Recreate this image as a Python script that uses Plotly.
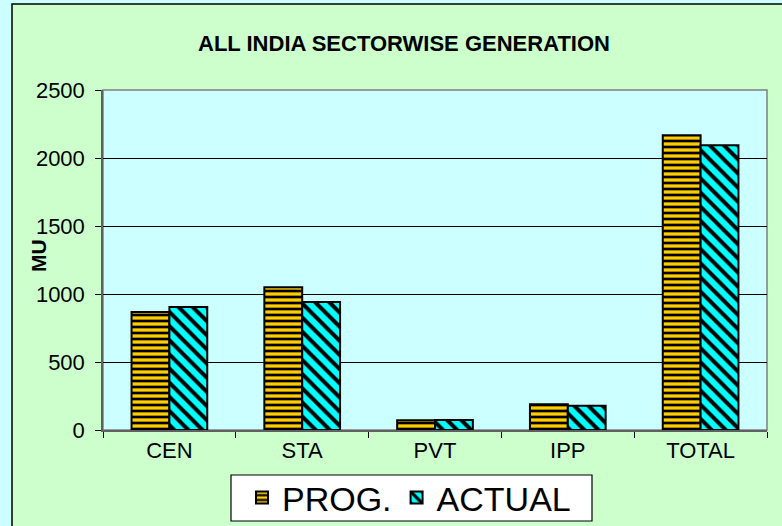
import plotly.graph_objects as go

categories = ["CEN", "STA", "PVT", "IPP", "TOTAL"]
prog = [868, 1049, 72, 189, 2167]
actual = [904, 941, 74, 179, 2093]
y_ticks = [0, 500, 1000, 1500, 2000, 2500]

W, H = 782, 526
L, R, T, B = 103, 15, 90, 96
pw, ph = W - L - R, H - T - B

def px(x):
    return (x - L) / pw

def py(y):
    return (H - B - y) / ph

FONT = "Liberation Sans, Arial, sans-serif"

fig = go.Figure()
fig.add_trace(go.Bar(
    name="PROG.", x=categories, y=prog,
    marker=dict(color="#FFCC00", line=dict(color="black", width=2),
                pattern=dict(shape="-", bgcolor="#FFCC00", fgcolor="black",
                             size=6, solidity=0.45, fillmode="replace")),
))
fig.add_trace(go.Bar(
    name="ACTUAL", x=categories, y=actual,
    marker=dict(color="#00FFFF", line=dict(color="black", width=2),
                pattern=dict(shape="\\", bgcolor="#00FFFF", fgcolor="black",
                             size=10, solidity=0.4, fillmode="replace")),
))

fig.update_layout(
    width=W, height=H,
    margin=dict(l=L, r=R, t=T, b=B, pad=0, autoexpand=False),
    paper_bgcolor="#CCFFFF",
    plot_bgcolor="rgba(0,0,0,0)",
    barmode="group", bargap=0.43, bargroupgap=0,
    font=dict(family=FONT, size=22, color="black"),
    title=dict(text="<b>ALL INDIA SECTORWISE GENERATION</b>",
               font=dict(size=22, family=FONT, color="black"),
               x=404 / W, xanchor="center", xref="container",
               y=1 - 43 / H, yanchor="middle", yref="container"),
    showlegend=True,
    legend=dict(orientation="h", x=px(409), xanchor="center",
                y=py(498), yanchor="middle",
                bgcolor="rgba(0,0,0,0)", borderwidth=0,
                font=dict(size=34, family=FONT), itemwidth=30,
                tracegroupgap=0),
    shapes=[
        dict(type="rect", xref="paper", yref="paper",
             x0=px(12), x1=px(800), y0=py(540), y1=py(4),
             fillcolor="#CCFFCC", line=dict(color="black", width=1.5), layer="below"),
        dict(type="rect", xref="paper", yref="paper",
             x0=0, x1=1, y0=0, y1=1,
             fillcolor="#CCFFFF", line=dict(color="#808080", width=1.5), layer="below"),
        dict(type="rect", xref="paper", yref="paper",
             x0=px(231), x1=px(592), y0=py(521), y1=py(475),
             fillcolor="white", line=dict(color="black", width=1.2), layer="below"),
    ],
    annotations=[
        dict(text="<b>MU</b>", xref="paper", yref="paper",
             x=px(38), y=py(256), xanchor="center", yanchor="middle",
             textangle=-90, showarrow=False,
             font=dict(size=21, family=FONT, color="black")),
    ],
)

fig.update_xaxes(
    type="category", tickson="boundaries", ticks="outside", ticklen=6,
    tickcolor="black", showline=True, linecolor="#606060", linewidth=1.5,
    showgrid=False, tickfont=dict(size=22, family=FONT),
)
fig.update_yaxes(
    range=[0, 2500], tickvals=y_ticks, ticks="outside", ticklen=6,
    tickcolor="black", showline=True, linecolor="#606060", linewidth=1.5,
    showgrid=True, gridcolor="black", gridwidth=1, zeroline=False,
    tickfont=dict(size=22, family=FONT), ticklabelstandoff=6,
)

fig.write_html(
    "out.html",
    config={"displayModeBar": False},
    post_script="document.body.style.margin='0';document.body.style.background='#CCFFFF';",
)
